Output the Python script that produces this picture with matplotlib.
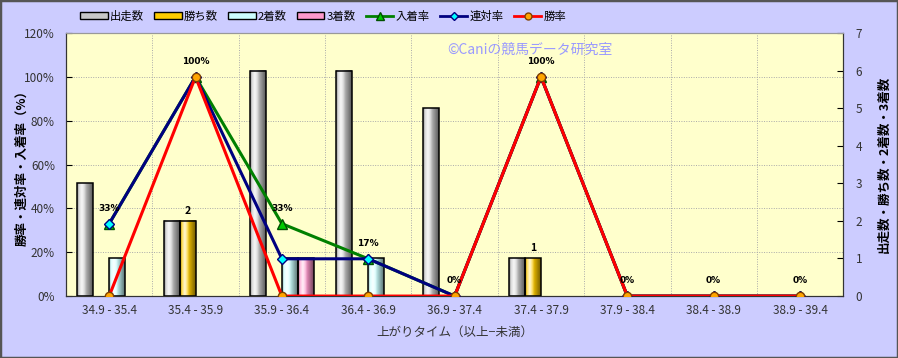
import matplotlib

matplotlib.use("Agg", force=True)
import matplotlib.pyplot as plt
import matplotlib.transforms as mtransforms
import numpy as np
from matplotlib.lines import Line2D
from matplotlib.patches import Patch, Rectangle

plt.rcParams["font.family"] = ["Noto Sans CJK JP", "DejaVu Sans"]

categories = ["34.9 - 35.4", "35.4 - 35.9", "35.9 - 36.4", "36.4 - 36.9", "36.9 - 37.4",
              "37.4 - 37.9", "37.9 - 38.4", "38.4 - 38.9", "38.9 - 39.4"]
starts = [3, 2, 6, 6, 5, 1, 0, 0, 0]
wins = [0, 2, 0, 0, 0, 1, 0, 0, 0]
seconds = [1, 0, 1, 1, 0, 0, 0, 0, 0]
thirds = [0, 0, 1, 0, 0, 0, 0, 0, 0]
place_rate = [33, 100, 33, 17, 0, 100, 0, 0, 0]
quinella_rate = [33, 100, 17, 17, 0, 100, 0, 0, 0]
win_rate = [0, 100, 0, 0, 0, 100, 0, 0, 0]

BAR_COLORS = {"出走数": "#c8c8c8", "勝ち数": "#ffcc00", "2着数": "#ccffff", "3着数": "#ff99cc"}
BG = "#ccccff"
PLOT_BG = "#ffffcc"


def cylinder(ax, x0, width, height, color):
    base = np.array(matplotlib.colors.to_rgb(color))
    t = np.linspace(0, 1, 40)
    hi = np.clip(1 - np.abs(t - 0.3) / 0.3, 0, 1) * 0.85
    shade = np.clip((t - 0.45) / 0.55, 0, 1) * 0.55 + np.clip((0.12 - t) / 0.12, 0, 1) * 0.35
    rgb = base[None, :] * (1 - hi[:, None]) + hi[:, None]
    rgb = rgb * (1 - shade[:, None])
    ax.imshow(rgb[None, :, :], extent=(x0, x0 + width, 0, height), aspect="auto",
              interpolation="bilinear", zorder=2)
    ax.add_patch(Rectangle((x0, 0), width, height, fill=False, edgecolor="black", lw=1.1, zorder=3))


fig = plt.figure(figsize=(8.98, 3.58), dpi=100, facecolor=BG)
ax = fig.add_axes([0.0735, 0.173, 0.8655, 0.735])
ax2 = ax.twinx()
ax.set_zorder(2)
ax2.set_zorder(1)
ax.patch.set_visible(False)
ax2.patch.set_visible(True)
ax2.patch.set_facecolor(PLOT_BG)

x = np.arange(len(categories))
w = 0.185
ax2.set_xlim(-0.5, len(categories) - 0.5)
ax.set_xlim(-0.5, len(categories) - 0.5)
ax.set_ylim(0, 120)
ax2.set_ylim(0, 7)

# grid lives on the bar axis so bars hide it
blend = mtransforms.blended_transform_factory(ax2.transAxes, ax.transData)
for v in range(20, 120, 20):
    ax2.plot([0, 1], [v, v], transform=blend, color="#aaaaaa", lw=0.7, ls=(0, (1, 1.5)), zorder=1)
for i in range(len(categories) - 1):
    ax2.axvline(i + 0.5, color="#aaaaaa", lw=0.7, ls=(0, (1, 1.5)), zorder=1)

for k, (name, vals) in enumerate(zip(BAR_COLORS, [starts, wins, seconds, thirds])):
    for i, v in enumerate(vals):
        if v > 0:
            cylinder(ax2, x[i] + (k - 2) * w, w, v, BAR_COLORS[name])
ax2.set_xlim(-0.5, len(categories) - 0.5)
ax2.set_ylim(0, 7)

for i, v in enumerate(wins):
    if v > 0:
        ax2.annotate(str(v), (x[i] - 0.5 * w, v), xytext=(0, 5), textcoords="offset pixels",
                     ha="center", va="bottom", fontsize=7.5, fontweight="bold", zorder=4)

ax.plot(x, place_rate, color="#008000", lw=2.2, marker="^", ms=7, mfc="#00cc00", mec="#005000", zorder=3)
ax.plot(x, quinella_rate, color="#000080", lw=2.2, marker="D", ms=5, mfc="#00ffff", mec="#000080", zorder=4)
ax.plot(x, win_rate, color="#ff0000", lw=2.2, marker="o", ms=6, mfc="#ffa500", mec="#804000", zorder=5)

for i, v in enumerate(place_rate):
    ax.annotate(f"{v}%", (x[i], v), xytext=(0, 11), textcoords="offset pixels",
                ha="center", va="bottom", fontsize=6.5, fontweight="bold", zorder=6,
                family="DejaVu Sans")

ax.set_yticks(range(0, 121, 20))
ax.set_yticklabels([f"{v}%" for v in range(0, 121, 20)])
ax2.set_yticks(range(0, 8))
ax.set_xticks(x)
ax.set_xticklabels(categories)
ax.tick_params(axis="x", length=0, pad=6, labelsize=8.5, labelcolor="#333333")
ax.tick_params(axis="y", direction="in", length=4, labelsize=8.5, labelcolor="#333333", pad=8)
ax2.tick_params(axis="y", direction="in", length=4, labelsize=8.5, labelcolor="#333333", pad=9)
ax2.tick_params(axis="x", length=0, labelbottom=False)

for a in (ax, ax2):
    for side in ("left", "right", "bottom"):
        a.spines[side].set_color("#333333")
    a.spines["top"].set_color("#999999")

ax.set_xlabel("上がりタイム（以上−未満）", fontsize=9, color="#333333", labelpad=6)
fig.text(0.024, 0.54, "勝率・連対率・入着率（%）", rotation=90, fontsize=9, fontweight="bold",
         ha="center", va="center")
fig.text(0.984, 0.54, "出走数・勝ち数・2着数・3着数", rotation=90, fontsize=9, fontweight="bold",
         ha="center", va="center")

ax.text(0.49, 0.935, "©Caniの競馬データ研究室", transform=ax.transAxes, fontsize=10,
        color="#9999ff", ha="left", va="center", zorder=1)

handles = [Patch(facecolor=c, edgecolor="black", lw=1) for c in BAR_COLORS.values()]
handles += [
    Line2D([], [], color="#008000", lw=2, marker="^", ms=6, mfc="#00cc00", mec="#005000"),
    Line2D([], [], color="#000080", lw=2, marker="D", ms=4, mfc="#00ffff", mec="#000080"),
    Line2D([], [], color="#ff0000", lw=2, marker="o", ms=5, mfc="#ffa500", mec="#804000"),
]
labels = list(BAR_COLORS) + ["入着率", "連対率", "勝率"]
fig.legend(handles, labels, loc="center left", bbox_to_anchor=(0.078, 0.955), ncol=7,
           frameon=False, fontsize=8.2, handlelength=2.4, handleheight=0.6, handletextpad=0.2,
           columnspacing=0.9)

fig.patches.append(Rectangle((0, 0), 1, 1, transform=fig.transFigure, fill=False,
                             edgecolor="#555555", lw=2.5))

fig.savefig("out.png", dpi=100, facecolor=BG)
